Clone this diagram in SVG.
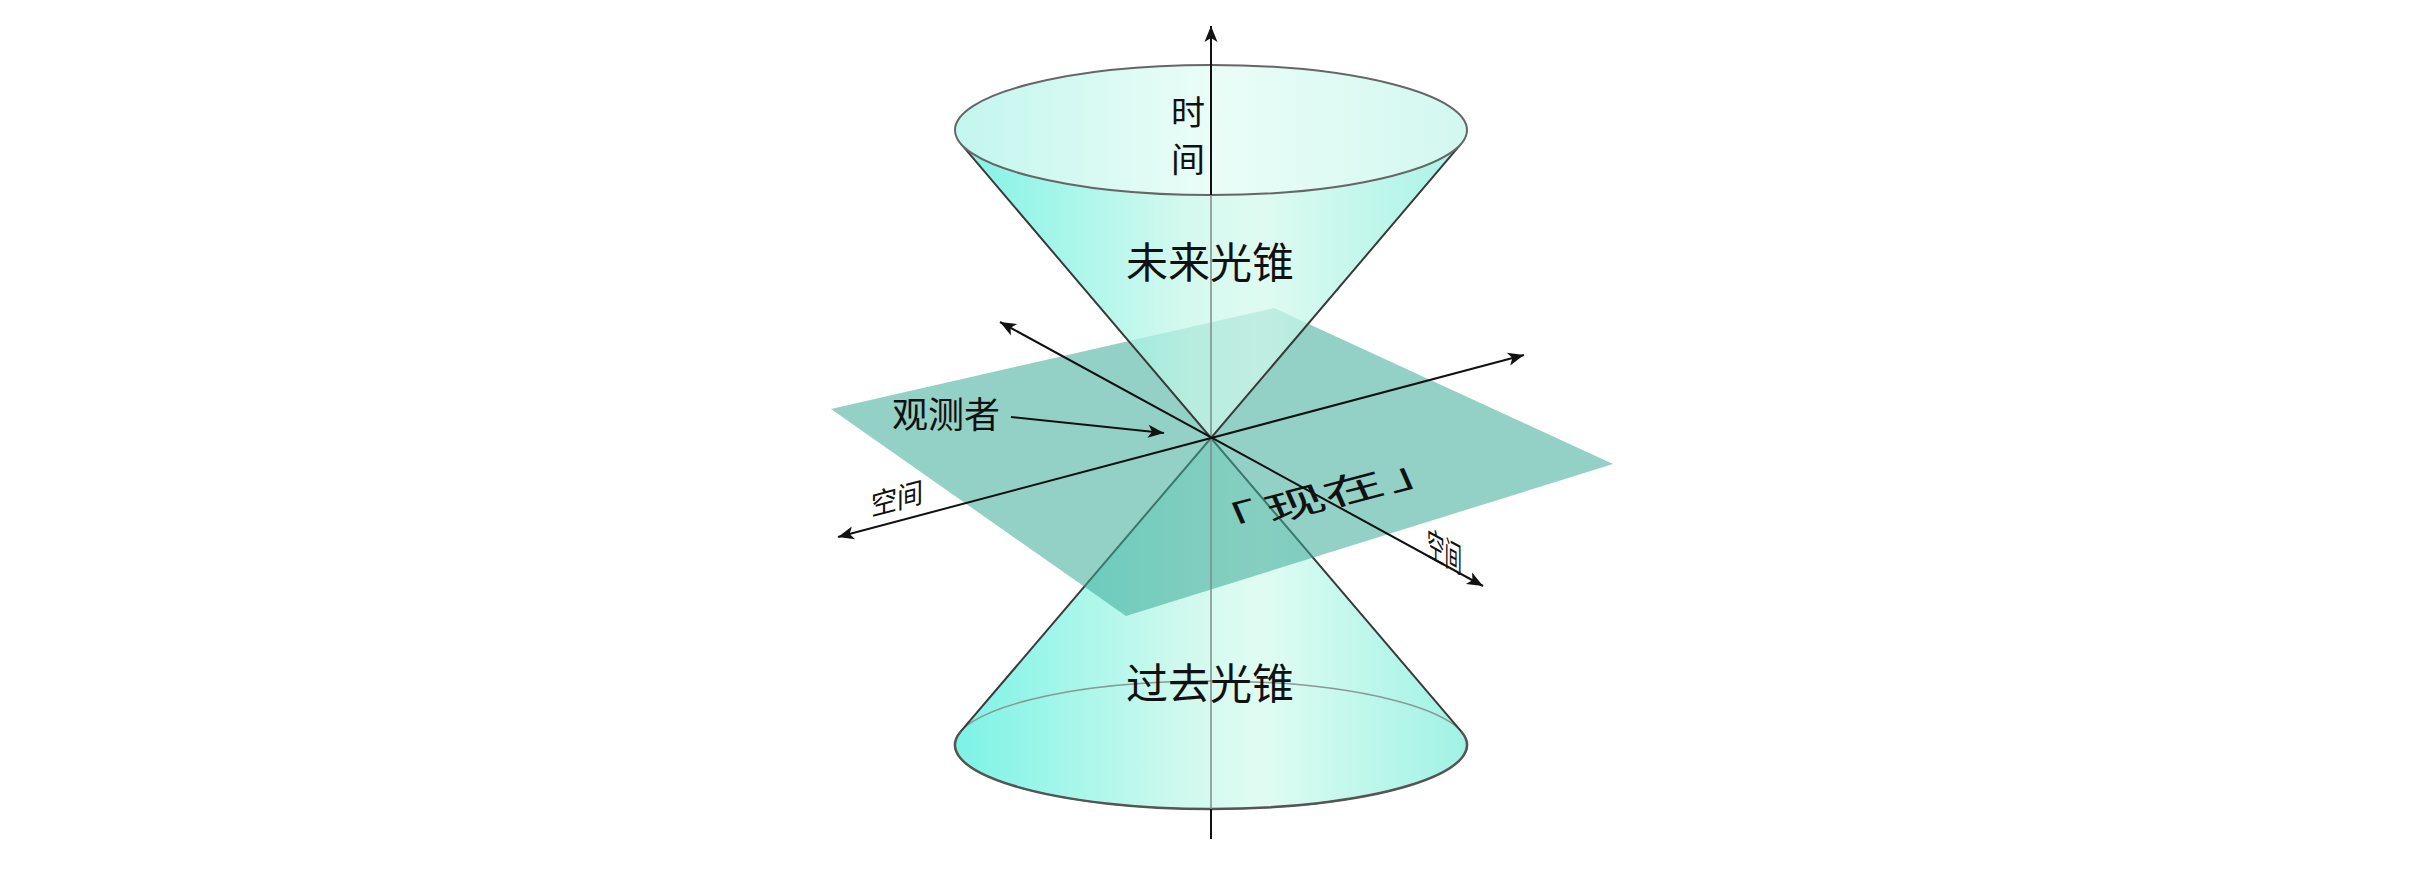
<svg xmlns="http://www.w3.org/2000/svg" width="2428" height="875" viewBox="0 0 2428 875">
<style>
.t{font-family:"Noto Sans CJK SC","Noto Sans",sans-serif;fill:#111}
.ax{stroke:#111;stroke-width:2;fill:none}
.edge{stroke:#3a3a3a;stroke-width:2;fill:none}
</style>
<defs>
<marker id="ah" markerUnits="userSpaceOnUse" orient="auto-start-reverse" markerWidth="40" markerHeight="40" refX="0" refY="0" overflow="visible">
<path d="M0,0 L-16,-6.5 L-12,0 L-16,6.5 Z" fill="#111"/>
</marker>
<linearGradient id="gLow" gradientUnits="userSpaceOnUse" x1="955" y1="0" x2="1467" y2="0">
<stop offset="0" stop-color="#7cf3e6"/>
<stop offset="0.45" stop-color="#d0f9ee"/>
<stop offset="0.6" stop-color="#e0fcf2"/>
<stop offset="1" stop-color="#9ff2e5"/>
</linearGradient>
<linearGradient id="gUp" gradientUnits="userSpaceOnUse" x1="955" y1="0" x2="1467" y2="0">
<stop offset="0" stop-color="#4eeedc"/>
<stop offset="0.45" stop-color="#c4f7e8"/>
<stop offset="0.6" stop-color="#d2f9ec"/>
<stop offset="1" stop-color="#86eedc"/>
</linearGradient>
<linearGradient id="gTop" gradientUnits="userSpaceOnUse" x1="955" y1="0" x2="1467" y2="0">
<stop offset="0" stop-color="#c2f6ee"/>
<stop offset="0.5" stop-color="#eafdf7"/>
<stop offset="1" stop-color="#d2f8f0"/>
</linearGradient>
</defs>

<g id="past-cone">
<path d="M1211,438 L1461.4,731.7 A256,64 0 1,1 960.6,731.7 Z" fill="url(#gLow)"/>
<ellipse cx="1211" cy="745" rx="256" ry="64" fill="none" stroke="#8a9896" stroke-width="1.5"/>
<path d="M960.6,731.7 A256,64 0 1,0 1461.4,731.7" fill="none" stroke="#555" stroke-width="2.5"/>
<path d="M960.6,731.7 L1211,438 L1461.4,731.7" class="edge"/>
</g>

<g id="present-plane">
<polygon points="831,409 1274,308 1613,464 1126,616" fill="#3aa998" fill-opacity="0.55"/>
</g>

<g id="future-cone">
<path d="M960.8,143.7 L1211,438 L1461.2,143.7 A256,65 0 0,1 960.8,143.7 Z" fill="url(#gUp)" fill-opacity="0.72"/>
<path d="M960.8,143.7 L1211,438 L1461.2,143.7" class="edge"/>
<ellipse cx="1211" cy="130" rx="256" ry="65" fill="url(#gTop)" stroke="#666" stroke-width="2"/>
</g>

<g id="connectors">
<line x1="1211" y1="195" x2="1211" y2="809" stroke="#7e8c8a" stroke-width="1.5"/>
<line x1="1211" y1="195" x2="1211" y2="26" class="ax" marker-end="url(#ah)"/>
<line x1="1211" y1="809" x2="1211" y2="839" class="ax"/>
<line x1="1000" y1="322" x2="1483" y2="586" class="ax" marker-start="url(#ah)" marker-end="url(#ah)"/>
<line x1="838" y1="537" x2="1524" y2="355" class="ax" marker-start="url(#ah)" marker-end="url(#ah)"/>
<line x1="1011" y1="417" x2="1164" y2="433" class="ax" marker-end="url(#ah)"/>
</g>

<g id="labels">
<text class="t" x="1188" y="125" font-size="34" text-anchor="middle">时</text>
<text class="t" x="1188" y="172" font-size="34" text-anchor="middle">间</text>
<text class="t" x="1210" y="278" font-size="42" text-anchor="middle">未来光锥</text>
<text class="t" x="1210" y="699" font-size="42" text-anchor="middle">过去光锥</text>
<text class="t" x="892" y="428" font-size="36">观测者</text>
<text class="t" font-size="29" transform="matrix(0.9,-0.2388,0,1,871,516)">空间</text>
<text class="t" font-size="35" transform="matrix(0.5,0.2733,0,1,1427,555)">空间</text>
<text class="t" font-size="40" transform="matrix(1.45,-0.38,0.35,0.8,1206,540)">「<tspan dx="5">现在</tspan><tspan dx="3">」</tspan></text>
</g>
</svg>
